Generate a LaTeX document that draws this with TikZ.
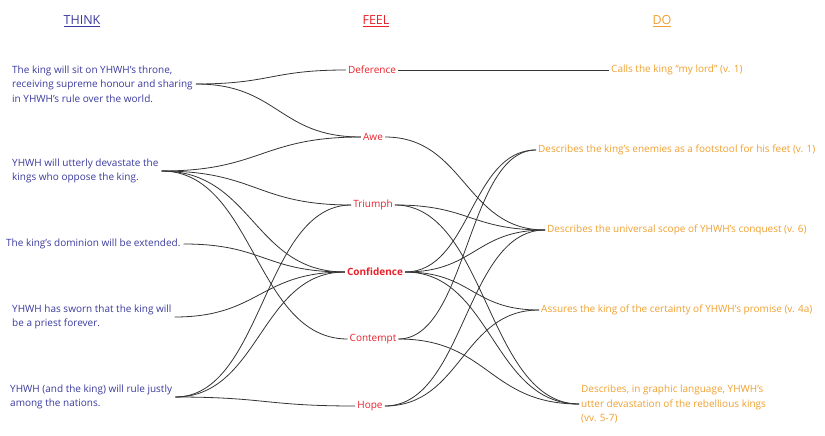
\documentclass[tikz,border=0pt]{standalone}
\usepackage{fontspec}
\setmainfont{Open Sans}
\usetikzlibrary{calc}
\definecolor{thinkc}{HTML}{3A3A9E}
\definecolor{feelc}{HTML}{E8202A}
\definecolor{docol}{HTML}{F0A030}
\definecolor{linec}{HTML}{333333}
\newcommand\ap{\char"0027\relax}
\newcommand\lnk[2]{\path[conn] let \p1=(#1.east),\p2=(#2.west),\n1={0.5*(\x2-\x1)} in (\p1) .. controls +(\n1,0) and +(-\n1,0) .. (\p2);}
\begin{document}
\begin{tikzpicture}[x=1pt,y=-1pt,
 think/.style={anchor=west,align=left,text=thinkc,font=\fontsize{10}{14.5}\selectfont,inner sep=3pt},
 feel/.style={text=feelc,font=\fontsize{10}{12}\selectfont,inner sep=2pt},
 doit/.style={anchor=west,align=left,text=docol,font=\fontsize{10}{14.5}\selectfont,inner sep=2pt},
 head/.style={font=\fontsize{12.5}{15}\selectfont},
 conn/.style={draw=linec,line width=0.8pt}]
\useasboundingbox (0,0) rectangle (825,436);
% headers
\node[head,text=thinkc] (hthink) at (82,21) {\underline{THINK}};
\node[head,text=feelc] (hfeel) at (376,21) {\underline{FEEL}};
\node[head,text=docol] (hdo) at (662,21) {\underline{DO}};
% think
\node[think] (t1) at (9,84) {The king will sit on YHWH\ap s throne,\\receiving supreme honour and sharing\\in YHWH\ap s rule over the world.};
\node[think] (t2) at (9,171) {YHWH will utterly devastate the\\kings who oppose the king.};
\node[think] (t3) at (3,244) {The king\ap s dominion will be extended.};
\node[think] (t4) at (9,317) {YHWH has sworn that the king will\\be a priest forever.};
\node[think] (t5) at (7,397) {YHWH (and the king) will rule justly\\among the nations.};
% feel
\node[feel] (f1) at (372,70) {Deference};
\node[feel] (f2) at (373,137) {Awe};
\node[feel] (f3) at (373,205) {Triumph};
\node[feel,font=\fontsize{10}{12}\selectfont\bfseries] (f4) at (375,272) {Confidence};
\node[feel] (f5) at (373,339) {Contempt};
\node[feel] (f6) at (370,406) {Hope};
% do
\node[doit] (d1) at (609,70) {Calls the king “my lord” (v. 1)};
\node[doit] (d2) at (536,150) {Describes the king\ap s enemies as a footstool for his feet (v. 1)};
\node[doit] (d3) at (545,230) {Describes the universal scope of YHWH\ap s conquest (v. 6)};
\node[doit] (d4) at (539,310) {Assures the king of the certainty of YHWH\ap s promise (v. 4a)};
\node[doit] (d5) at (579,404) {Describes, in graphic language, YHWH\ap s\\utter devastation of the rebellious kings\\(vv. 5-7)};
% links think -> feel
\lnk{t1}{f1} \lnk{t1}{f2}
\lnk{t2}{f2} \lnk{t2}{f3} \lnk{t2}{f4} \lnk{t2}{f5}
\lnk{t3}{f4} \lnk{t4}{f4}
\lnk{t5}{f3} \lnk{t5}{f4} \lnk{t5}{f6}
% links feel -> do
\lnk{f1}{d1} \lnk{f2}{d3} \lnk{f3}{d3} \lnk{f3}{d5}
\lnk{f4}{d2} \lnk{f4}{d3} \lnk{f4}{d4} \lnk{f4}{d5}
\lnk{f5}{d2} \lnk{f5}{d5} \lnk{f6}{d3} \lnk{f6}{d4}
\end{tikzpicture}
\end{document}
